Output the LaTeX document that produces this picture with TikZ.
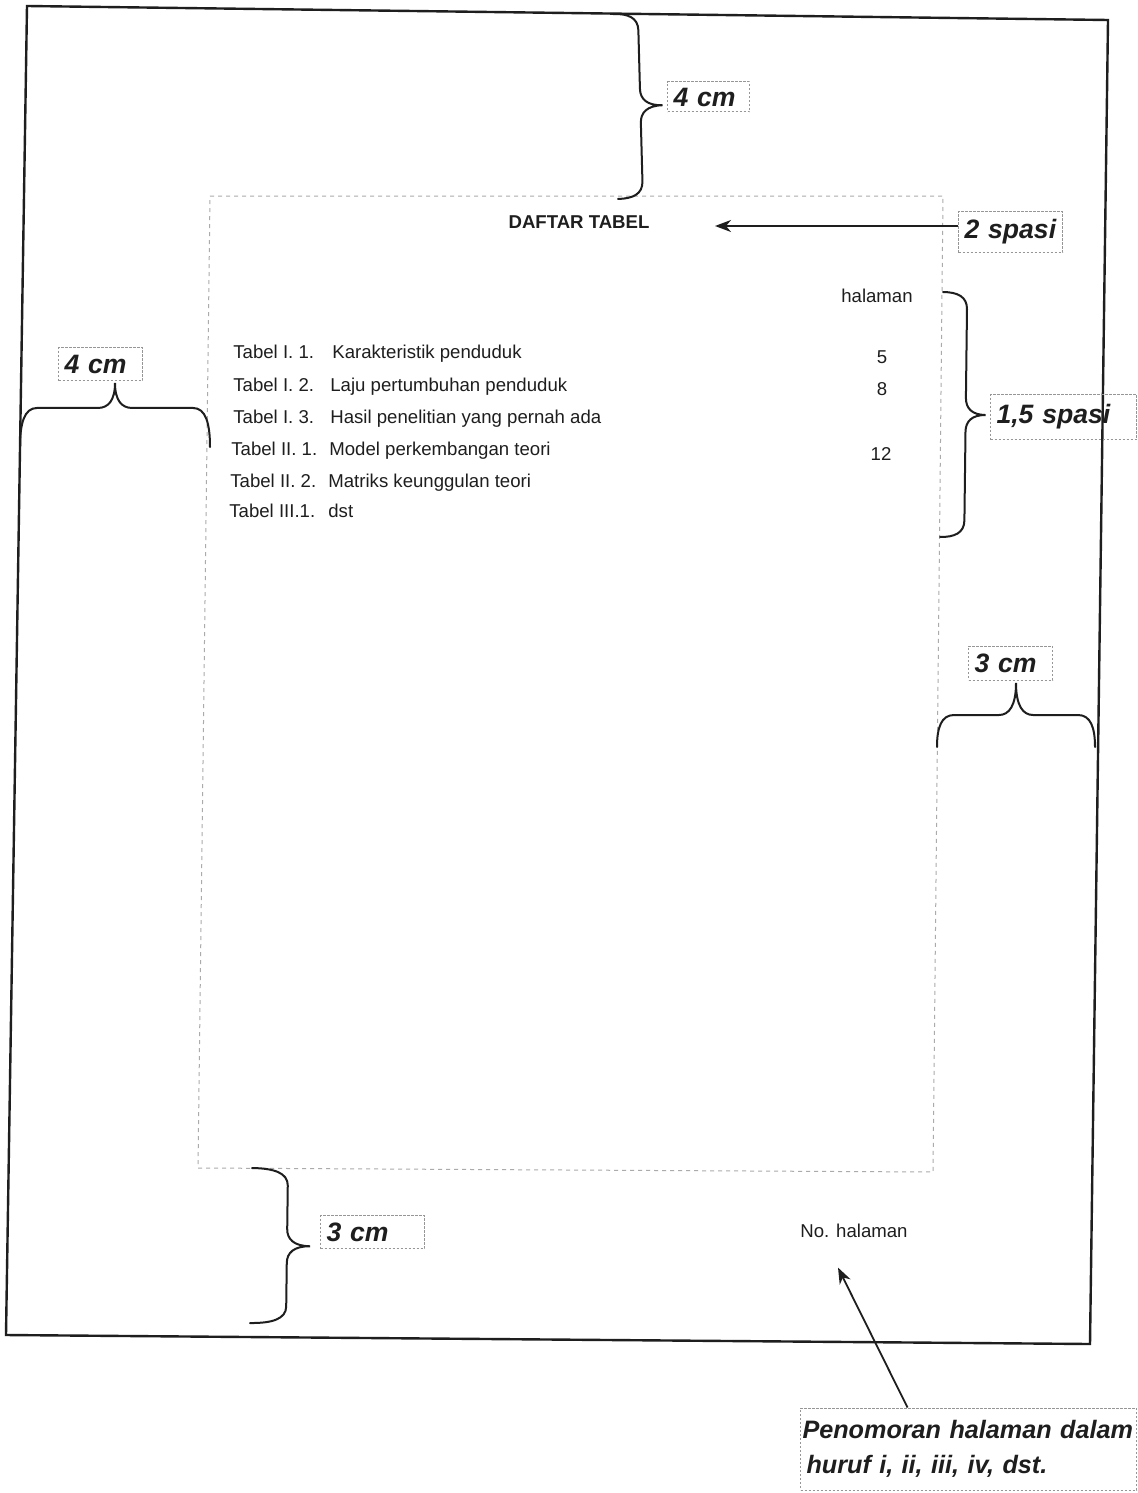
\documentclass[tikz,border=0pt]{standalone}
\usepackage{fontspec}
\setmainfont{Liberation Sans}
\usetikzlibrary{arrows.meta,decorations}

\definecolor{inkblack}{RGB}{30,30,30}
\definecolor{guidegray}{RGB}{150,150,150}

\newcommand{\bodyfont}{\fontsize{9.3}{11}\selectfont}
\newcommand{\tagfont}{\fontsize{13.3}{17.5}\selectfont\bfseries\itshape}
\newcommand{\notefont}{\fontsize{12.6}{17.5}\selectfont\bfseries\itshape}

% hand drawn curly brace: amplitude = tip, body = share of amplitude,
% segment length = length of the curved parts
\pgfkeys{/pgf/decoration/body/.store in=\curlybody, /pgf/decoration/body=0.56}
\pgfdeclaredecoration{curly}{curl}{
\state{curl}[width=+\pgfdecoratedremainingdistance, next state=final]
{
\pgfmathsetlengthmacro\cA{\pgfdecorationsegmentamplitude}
\pgfmathsetlengthmacro\cH{\curlybody*\pgfdecorationsegmentamplitude}
\pgfmathsetlengthmacro\cS{\pgfdecorationsegmentlength}
\pgfmathsetlengthmacro\cL{\pgfdecoratedremainingdistance}
\pgfmathsetlengthmacro\cM{0.5*\pgfdecoratedremainingdistance}
\pgfpathmoveto{\pgfpointorigin}
\pgfpathcurveto{\pgfpoint{0pt}{0.6*\cH}}{\pgfpoint{0.25*\cS}{\cH}}{\pgfpoint{\cS}{\cH}}
\pgfpathlineto{\pgfpoint{\cM-\cS}{\cH}}
\pgfpathcurveto{\pgfpoint{\cM-0.4*\cS}{\cH}}{\pgfpoint{\cM}{\cH+0.3*(\cA-\cH)}}{\pgfpoint{\cM}{\cA}}
\pgfpathcurveto{\pgfpoint{\cM}{\cH+0.3*(\cA-\cH)}}{\pgfpoint{\cM+0.4*\cS}{\cH}}{\pgfpoint{\cM+\cS}{\cH}}
\pgfpathlineto{\pgfpoint{\cL-\cS}{\cH}}
\pgfpathcurveto{\pgfpoint{\cL-0.25*\cS}{\cH}}{\pgfpoint{\cL}{0.6*\cH}}{\pgfpoint{\cL}{0pt}}
}
\state{final}{}
}

\begin{document}
\begin{tikzpicture}[
x=0.5pt, y=-0.5pt,
every node/.style={
text=inkblack,
font=\bodyfont,
inner sep=0pt
},
arrow/.style={-{Stealth[length=8pt,width=6pt,inset=2.5pt]}, line width=0.9pt, draw=inkblack},
brace/.style={decorate, decoration={curly, amplitude=#1, segment length=8.5pt},
line width=1pt, draw=inkblack, line cap=round},
brace/.default=20pt
]

% =====================================================
% Styles
% =====================================================

\tikzstyle{frame} =
[line width=1.2pt, draw=inkblack, line join=miter]

\tikzstyle{textarea} =
[line width=0.5pt, draw=guidegray!80,
dash pattern=on 2pt off 2pt]

\tikzstyle{tag} =
[draw=guidegray, line width=0.5pt,
dash pattern=on 1.2pt off 0.8pt,
font=\tagfont, inner xsep=3pt,
align=left, anchor=west]

\tikzstyle{entry} =
[anchor=base west]

\tikzstyle{pagenum} =
[anchor=base]

\fill [white] (0,0) rectangle (1138,1493);
\useasboundingbox (0,0) rectangle (1138,1493);

% =====================================================
% Page and text area
% =====================================================

\draw [frame] (27,6) -- (1108,20) -- (1090,1344) -- (6,1335) -- cycle;

\draw [textarea] (210,196) -- (943,196) -- (933,1172) -- (198,1168) -- cycle;

% =====================================================
% Nodes
% =====================================================

\node (daftar) [anchor=base, font=\bodyfont\bfseries] at (579,228)
{DAFTAR TABEL};

\node (halaman) [pagenum] at (877,302)
{halaman};

\node (tab11) [entry] at (233,358) {Tabel I. 1.};
\node (judul11) [entry] at (332,358) {Karakteristik penduduk};

\node (tab12) [entry] at (233,391) {Tabel I. 2.};
\node (judul12) [entry] at (330,391) {Laju pertumbuhan penduduk};

\node (tab13) [entry] at (233,423) {Tabel I. 3.};
\node (judul13) [entry] at (330,423) {Hasil penelitian yang pernah ada};

\node (tab21) [entry] at (231,455) {Tabel II. 1.};
\node (judul21) [entry] at (329,455) {Model perkembangan teori};

\node (tab22) [entry] at (230,487) {Tabel II. 2.};
\node (judul22) [entry] at (328,487) {Matriks keunggulan teori};

\node (tab31) [entry] at (229,517) {Tabel III.1.};
\node (judul31) [entry] at (328,517) {dst};

\node (hal11) [pagenum] at (882,363) {5};
\node (hal12) [pagenum] at (882,395) {8};
\node (hal21) [pagenum] at (881,460) {12};

\node (nohal) [pagenum] at (854,1237)
{No. halaman};

% labels of the margins
\node (cmtop) [tag, text width=35pt, minimum height=15pt] at (667,97)
{4 cm};

\node (spasidua) [tag, text width=46pt, minimum height=20.5pt] at (958,232)
{2 spasi};

\node (cmleft) [tag, text width=36pt, minimum height=16.5pt] at (58,364)
{4 cm};

\node (spasisatu) [tag, text width=67pt, minimum height=22.5pt] at (990,417)
{1,5 spasi};

\node (cmright) [tag, text width=36pt, minimum height=17pt] at (968,663)
{3 cm};

\node (cmbottom) [tag, text width=46pt, minimum height=16.5pt] at (320,1232)
{3 cm};

\node (numnote) [tag, font=\notefont, inner xsep=1pt, text width=166pt, minimum height=41pt] at (800,1449)
{Penomoran halaman dalam\\\hspace{2pt}huruf i, ii, iii, iv, dst.};

% =====================================================
% Braces
% =====================================================

\coordinate (topA) at (613,14);
\coordinate (topB) at (618,199);
\draw [brace=23.5pt, decoration={body=0.53}] (topA) -- (topB);

\coordinate (leftA) at (20,447);
\coordinate (leftB) at (210,447);
\draw [brace=32pt, decoration={body=0.61}] (leftA) -- (leftB);

\coordinate (spasiA) at (943,292);
\coordinate (spasiB) at (940,537);
\draw [brace=22pt, decoration={body=0.55}] (spasiA) -- (spasiB);

\coordinate (rightA) at (937,747);
\coordinate (rightB) at (1095,747);
\draw [brace=32pt, decoration={body=0.5}] (rightA) -- (rightB);

\coordinate (bottomA) at (252,1168);
\coordinate (bottomB) at (250,1323);
\draw [brace=29.5pt, decoration={body=0.61}] (bottomA) -- (bottomB);

% =====================================================
% Arrows
% =====================================================

\coordinate (daftartip) at (715,226);
\draw [arrow] (spasidua.west |- daftartip) -- (daftartip);

\coordinate (nohaltip) at ([xshift=-8pt,yshift=-15pt]nohal.south);
\draw [arrow] ([xshift=-30.5pt]numnote.north) -- (nohaltip);

\end{tikzpicture}
\end{document}
